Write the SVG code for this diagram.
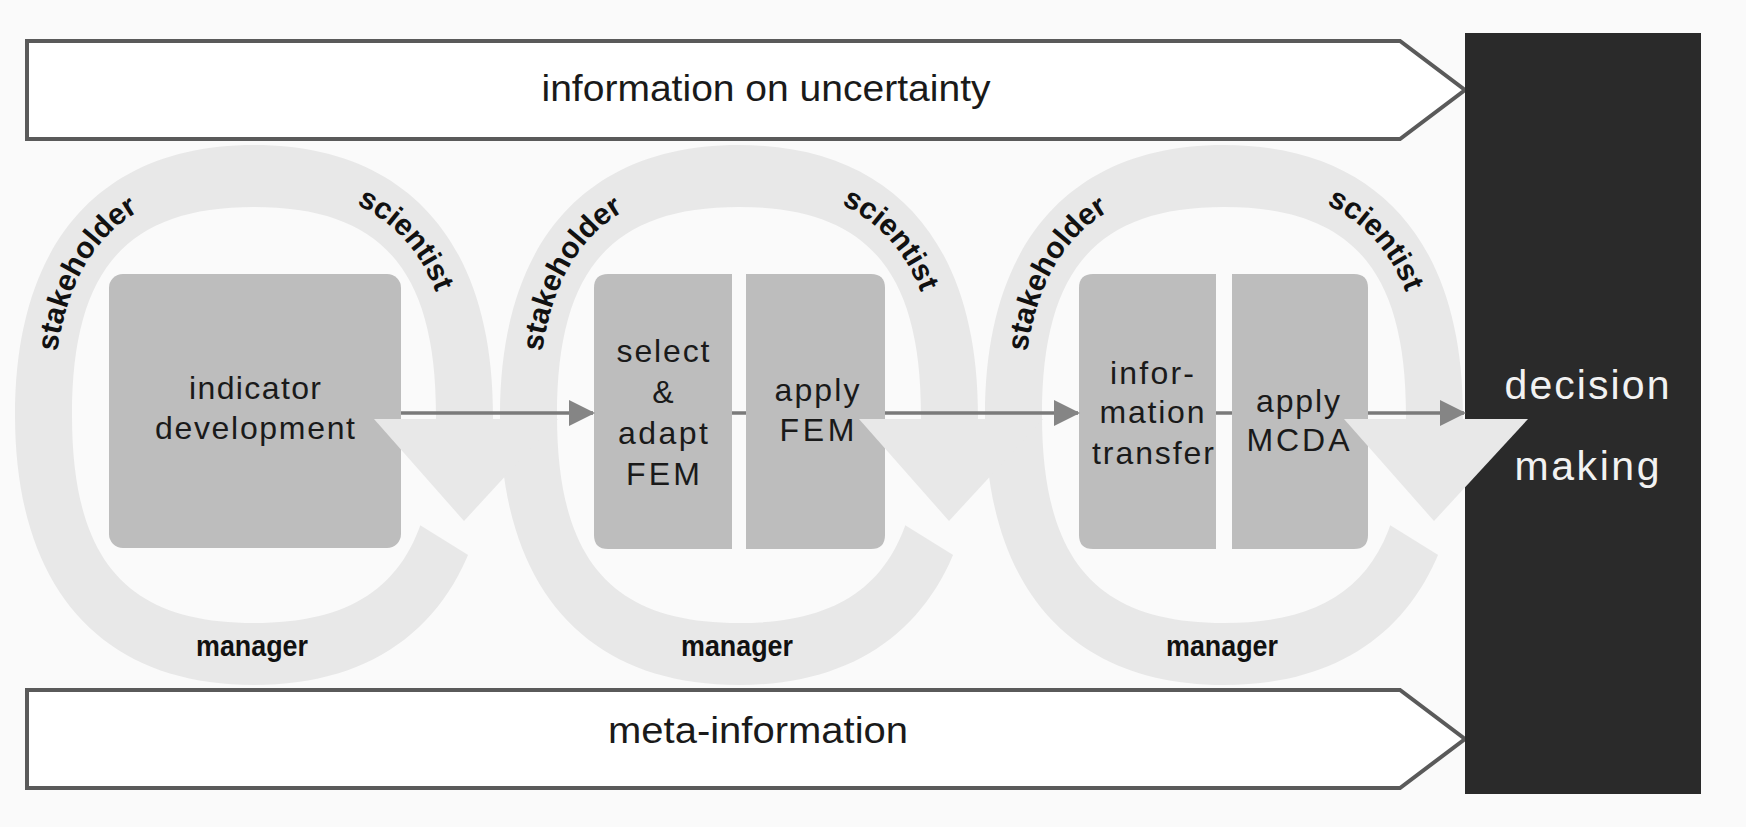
<svg xmlns="http://www.w3.org/2000/svg" width="1746" height="827" viewBox="0 0 1746 827">
<style>
.bg{fill:#fafafa}
.banner{fill:#ffffff;stroke:#5a5a5a;stroke-width:4;stroke-linejoin:miter}
.bannerText{font-family:"Liberation Sans",Arial,sans-serif;font-size:36px;fill:#1a1a1a;text-anchor:middle}
.ring{fill:#e8e8e8;fill-rule:evenodd}
.tri{fill:#e8e8e8}
.box{fill:#bdbdbd}
.boxText{font-family:"Liberation Sans",Arial,sans-serif;font-size:32px;fill:#1a1a1a;text-anchor:middle}
.role{font-family:"Liberation Sans",Arial,sans-serif;font-size:30px;font-weight:bold;fill:#111}
.mgr{text-anchor:middle;font-size:29px}
.conn{stroke:#7a7a7a;stroke-width:3.5;fill:none}
.dm{fill:#2a2a2a}
.dmText{font-family:"Liberation Sans",Arial,sans-serif;font-size:41px;fill:#f2f2f2;text-anchor:middle}
</style>
<defs>
<path id="ringShape" d="M239,0 C239,173 153,270 0,270 C-153,270 -239,173 -239,0 C-239,-173 -153,-270 0,-270 C153,-270 239,-173 239,0 Z M182,0 C182,146 127,208 0,208 C-127,208 -182,146 -182,0 C-182,-146 -127,-208 0,-208 C127,-208 182,-146 182,0 Z"/>
<path id="lblPath" d="M201,0 C201,156 137,230 0,230 C-137,230 -201,156 -201,0 C-201,-156 -137,-230 0,-230 C137,-230 201,-156 201,0"/>
<mask id="gapMask" maskUnits="userSpaceOnUse" x="-300" y="-300" width="700" height="700">
<rect x="-300" y="-300" width="700" height="700" fill="#fff"/>
<polygon points="0,4 330,4 330,212 0,7" fill="#000"/>
</mask>
<marker id="arr" markerUnits="userSpaceOnUse" markerWidth="26" markerHeight="26" refX="24" refY="13" orient="auto">
<path d="M0,0 L26,13 L0,26 Z" fill="#858585"/>
</marker>
</defs>

<rect class="bg" x="0" y="0" width="1746" height="827"/>

<g id="banner-uncertainty">
<path class="banner" d="M27,41 H1400 L1465,90 L1400,139 H27 Z"/>
<text class="bannerText" x="766" y="101" textLength="449" lengthAdjust="spacingAndGlyphs">information on uncertainty</text>
</g>
<g id="banner-meta">
<path class="banner" d="M27,690 H1400 L1465,739 L1400,788 H27 Z"/>
<text class="bannerText" x="758" y="743" textLength="300" lengthAdjust="spacingAndGlyphs">meta-information</text>
</g>

<g id="decision-making">
<rect class="dm" x="1465" y="33" width="236" height="761"/>
<text class="dmText" x="1587" y="399" textLength="165">decision</text>
<text class="dmText" x="1587" y="480" textLength="145">making</text>
</g>

<g id="loop-1" transform="translate(254,415)">
<use href="#ringShape" class="ring" mask="url(#gapMask)"/>
<text class="role"><textPath href="#lblPath" startOffset="60.5%" text-anchor="middle">stakeholder</textPath></text>
<text class="role"><textPath href="#lblPath" startOffset="86.8%" text-anchor="middle">scientist</textPath></text>
<text class="role mgr" x="-2" y="241" textLength="112" lengthAdjust="spacingAndGlyphs">manager</text>
</g>
<g id="loop-2" transform="translate(739,415)">
<use href="#ringShape" class="ring" mask="url(#gapMask)"/>
<text class="role"><textPath href="#lblPath" startOffset="60.5%" text-anchor="middle">stakeholder</textPath></text>
<text class="role"><textPath href="#lblPath" startOffset="86.8%" text-anchor="middle">scientist</textPath></text>
<text class="role mgr" x="-2" y="241" textLength="112" lengthAdjust="spacingAndGlyphs">manager</text>
</g>
<g id="loop-3" transform="translate(1224,415)">
<use href="#ringShape" class="ring" mask="url(#gapMask)"/>
<text class="role"><textPath href="#lblPath" startOffset="60.5%" text-anchor="middle">stakeholder</textPath></text>
<text class="role"><textPath href="#lblPath" startOffset="86.8%" text-anchor="middle">scientist</textPath></text>
<text class="role mgr" x="-2" y="241" textLength="112" lengthAdjust="spacingAndGlyphs">manager</text>
</g>

<g id="box-indicator">
<rect class="box" x="109" y="274" width="292" height="274" rx="14"/>
<text class="boxText" x="255" y="399" textLength="132">indicator</text>
<text class="boxText" x="255" y="439" textLength="200">development</text>
</g>
<g id="box-select">
<path class="box" d="M608,274 H732 V549 H608 Q594,549 594,535 V288 Q594,274 608,274 Z"/>
<text class="boxText" x="663" y="362" textLength="93">select</text>
<text class="boxText" x="663" y="403">&amp;</text>
<text class="boxText" x="663" y="444" textLength="90">adapt</text>
<text class="boxText" x="663" y="485" textLength="74">FEM</text>
</g>
<g id="box-applyFEM">
<path class="box" d="M746,274 H871 Q885,274 885,288 V535 Q885,549 871,549 H746 Z"/>
<text class="boxText" x="817" y="401" textLength="85">apply</text>
<text class="boxText" x="817" y="441" textLength="75">FEM</text>
</g>
<g id="box-transfer">
<path class="box" d="M1093,274 H1216 V549 H1093 Q1079,549 1079,535 V288 Q1079,274 1093,274 Z"/>
<text class="boxText" x="1152" y="384" textLength="84">infor-</text>
<text class="boxText" x="1152" y="423" textLength="105">mation</text>
<text class="boxText" x="1153" y="464" textLength="122">transfer</text>
</g>
<g id="box-applyMCDA">
<path class="box" d="M1232,274 H1354 Q1368,274 1368,288 V535 Q1368,549 1354,549 H1232 Z"/>
<text class="boxText" x="1298" y="412" textLength="84">apply</text>
<text class="boxText" x="1298" y="451" textLength="103">MCDA</text>
</g>

<g id="loop-arrowheads">
<polygon class="tri" points="374,419 558,419 464,521"/>
<polygon class="tri" points="859,419 1043,419 949,521"/>
<polygon class="tri" points="1344,419 1528,419 1434,521"/>
</g>

<g id="connectors">
<line class="conn" x1="401" y1="413" x2="593" y2="413" marker-end="url(#arr)"/>
<line class="conn" x1="732" y1="413" x2="746" y2="413"/>
<line class="conn" x1="885" y1="413" x2="1078" y2="413" marker-end="url(#arr)"/>
<line class="conn" x1="1216" y1="413" x2="1232" y2="413"/>
<line class="conn" x1="1368" y1="413" x2="1464" y2="413" marker-end="url(#arr)"/>
</g>
</svg>
